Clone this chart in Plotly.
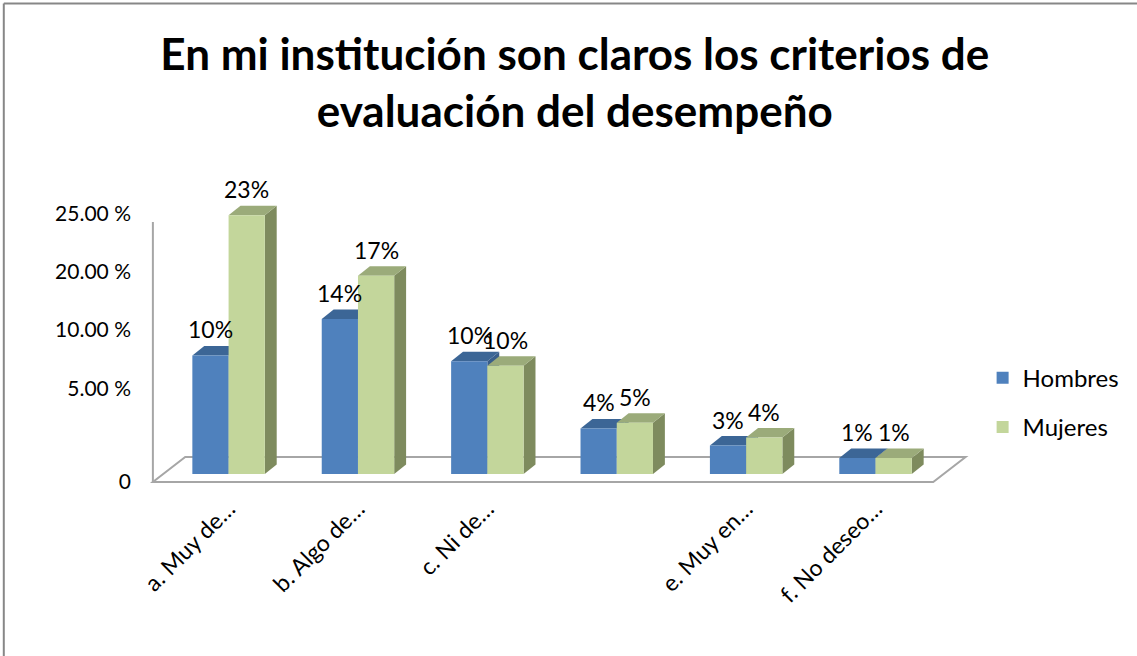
import plotly.graph_objects as go

# ---------------- data ----------------
categories = ["a. Muy de…", "b. Algo de…", "c. Ni de…", "", "e. Muy en…", "f. No deseo…"]
series_names = ["Hombres", "Mujeres"]
hombres = [10.4, 13.6, 9.9, 4.0, 2.5, 1.4]
mujeres = [22.7, 17.4, 9.5, 4.5, 3.2, 1.4]
hombres_labels = ["10%", "14%", "10%", "4%", "3%", "1%"]
mujeres_labels = ["23%", "17%", "10%", "5%", "4%", "1%"]
y_tick_labels = ["0", "5.00 %", "10.00 %", "20.00 %", "25.00 %"]
y_tick_positions = [-0.70, 7.46, 12.63, 17.72, 22.81]
title_text = "En mi institución son claros los criterios de<br>evaluación del desempeño"

# ---------------- styles ----------------
FONT = "Lato"
front_cols = ["#4F81BD", "#C3D69B"]
top_cols = ["#3C6696", "#9BAB7A"]
side_cols = ["#385D8A", "#7E8B5E"]
bargap = 0.44
bar_w = (1 - bargap) / 2
depth_x = 0.092   # 3D depth in x units
depth_y = 0.83    # 3D depth in y units

x_pos = list(range(len(categories)))
series = [hombres, mujeres]
labels = [hombres_labels, mujeres_labels]

fig = go.Figure()
for i, (name, vals) in enumerate(zip(series_names, series)):
    fig.add_trace(go.Bar(
        x=x_pos, y=vals, name=name,
        marker=dict(color=front_cols[i], line=dict(width=0)),
        legendgroup=name,
    ))

shapes = []
annotations = []
for i, vals in enumerate(series):
    off = (-0.5 + i) * bar_w
    for c, v, lab in zip(x_pos, vals, labels[i]):
        xl = c + off - bar_w / 2
        xr = c + off + bar_w / 2
        shapes.append(dict(
            type="path", xref="x", yref="y", layer="below",
            path=f"M {xr},0 L {xr},{v} L {xr+depth_x},{v+depth_y} L {xr+depth_x},{depth_y} Z",
            fillcolor=side_cols[i], line=dict(width=0)))
        shapes.append(dict(
            type="path", xref="x", yref="y", layer="below",
            path=f"M {xl},{v} L {xr},{v} L {xr+depth_x},{v+depth_y} L {xl+depth_x},{v+depth_y} Z",
            fillcolor=top_cols[i], line=dict(width=0)))
        annotations.append(dict(
            x=c + off, y=v, xref="x", yref="y", text=lab, showarrow=False,
            yanchor="middle", yshift=26,
            font=dict(family=FONT, size=23, color="black")))

# floor and vertical axis (3D frame)
n = len(categories)
fl_front_y, fl_back_y = -0.70, 1.49
fl_left, fl_right = -0.585, n - 1 + 0.446
fl_dx = 0.25
frame_col = "#A6A6A6"
shapes.insert(0, dict(
    type="path", xref="x", yref="y", layer="below",
    path=(f"M {fl_left},{fl_front_y} L {fl_right},{fl_front_y} "
          f"L {fl_right+fl_dx},{fl_back_y} L {fl_left+fl_dx},{fl_back_y} Z"),
    fillcolor="white", line=dict(color=frame_col, width=2)))
shapes.insert(1, dict(
    type="line", xref="x", yref="y", layer="below",
    x0=fl_left, x1=fl_left, y0=fl_front_y, y1=22.1,
    line=dict(color=frame_col, width=2)))

# outer chart border (left and top visible)
border_col = "#878787"
shapes.append(dict(type="line", xref="paper", yref="paper",
                   x0=-0.161, x1=-0.161, y0=-0.6, y1=1.431,
                   line=dict(color=border_col, width=2)))
shapes.append(dict(type="line", xref="paper", yref="paper",
                   x0=-0.161, x1=1.2, y0=1.431, y1=1.431,
                   line=dict(color=border_col, width=2)))

fig.update_layout(
    width=1137, height=656,
    margin=dict(l=140, r=147, t=150, b=166),
    paper_bgcolor="white", plot_bgcolor="white",
    barmode="group", bargap=bargap, bargroupgap=0,
    title=dict(text=title_text, x=0.5055, xanchor="center", y=0.894, yanchor="middle",
               font=dict(family=FONT, size=44, color="black", weight="bold")),
    xaxis=dict(range=[-0.6846, 5.8538], tickmode="array", tickvals=x_pos,
               ticktext=categories, tickangle=-45, showgrid=False, zeroline=False,
               showline=False, ticks="",
               tickfont=dict(family=FONT, size=23, color="black")),
    yaxis=dict(range=[-1.40, 28.42], tickmode="array", tickvals=y_tick_positions,
               ticktext=y_tick_labels, showgrid=False, zeroline=False, showline=False,
               ticks="", ticklabelstandoff=8,
               tickfont=dict(family=FONT, size=21, color="black")),
    legend=dict(x=0.996, y=0.395, xanchor="left", yanchor="top",
                font=dict(family=FONT, size=24, color="black"),
                tracegroupgap=15, traceorder="grouped", bgcolor="rgba(0,0,0,0)"),
    shapes=shapes,
    annotations=annotations,
    showlegend=True,
)

fig.write_html("out.html", config={"displayModeBar": False},
               post_script="document.body.style.margin='0px';")
